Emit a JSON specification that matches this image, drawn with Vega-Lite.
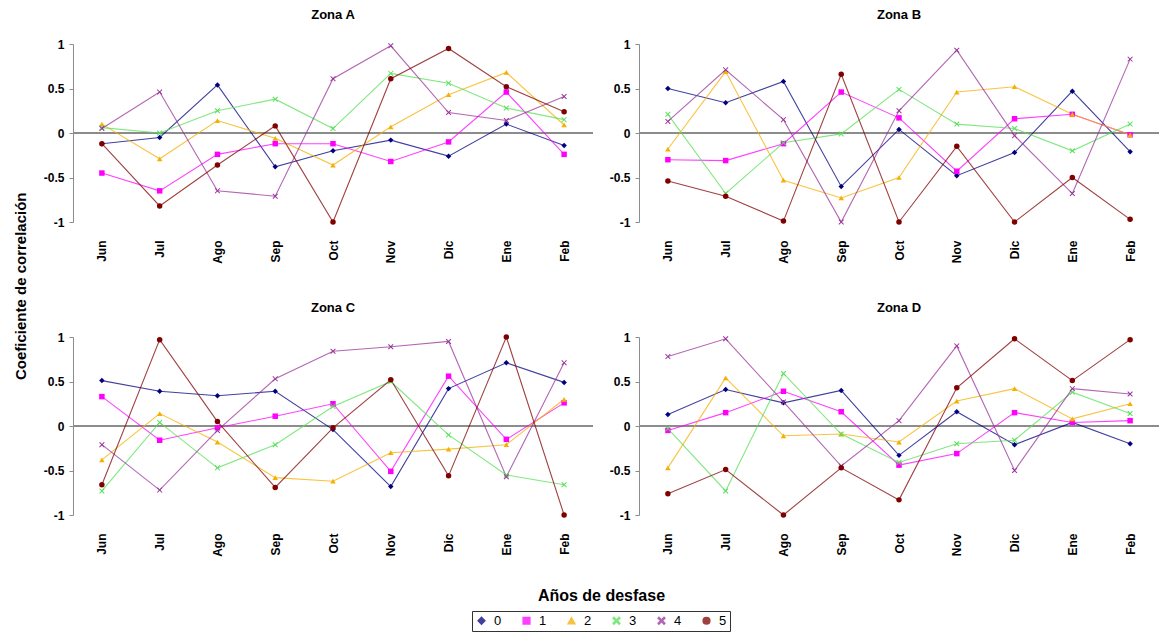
{
  "$schema": "https://vega.github.io/schema/vega-lite/v6.json",
  "background": "white",
  "padding": {"left": 14, "top": 9, "right": 0, "bottom": 4},
  "title": {"text": "Coeficiente de correlación", "orient": "left", "anchor": "middle", "fontSize": 15, "fontWeight": "bold", "font": "Liberation Sans", "offset": 14, "dx": 34},
  "vconcat": [
    {
      "title": {"text": "Años de desfase", "orient": "bottom", "anchor": "middle", "fontSize": 16, "fontWeight": "bold", "font": "Liberation Sans", "offset": 32},
      "data": {
        "values": [
          {"zona": "Zona A", "serie": "0", "mes": "Jun", "r": -0.12}, {"zona": "Zona A", "serie": "0", "mes": "Jul", "r": -0.05}, {"zona": "Zona A", "serie": "0", "mes": "Ago", "r": 0.54}, {"zona": "Zona A", "serie": "0", "mes": "Sep", "r": -0.38}, {"zona": "Zona A", "serie": "0", "mes": "Oct", "r": -0.2}, {"zona": "Zona A", "serie": "0", "mes": "Nov", "r": -0.08}, {"zona": "Zona A", "serie": "0", "mes": "Dic", "r": -0.26}, {"zona": "Zona A", "serie": "0", "mes": "Ene", "r": 0.1}, {"zona": "Zona A", "serie": "0", "mes": "Feb", "r": -0.14},
          {"zona": "Zona A", "serie": "1", "mes": "Jun", "r": -0.45}, {"zona": "Zona A", "serie": "1", "mes": "Jul", "r": -0.65}, {"zona": "Zona A", "serie": "1", "mes": "Ago", "r": -0.24}, {"zona": "Zona A", "serie": "1", "mes": "Sep", "r": -0.12}, {"zona": "Zona A", "serie": "1", "mes": "Oct", "r": -0.12}, {"zona": "Zona A", "serie": "1", "mes": "Nov", "r": -0.32}, {"zona": "Zona A", "serie": "1", "mes": "Dic", "r": -0.1}, {"zona": "Zona A", "serie": "1", "mes": "Ene", "r": 0.46}, {"zona": "Zona A", "serie": "1", "mes": "Feb", "r": -0.24},
          {"zona": "Zona A", "serie": "2", "mes": "Jun", "r": 0.1}, {"zona": "Zona A", "serie": "2", "mes": "Jul", "r": -0.29}, {"zona": "Zona A", "serie": "2", "mes": "Ago", "r": 0.14}, {"zona": "Zona A", "serie": "2", "mes": "Sep", "r": -0.06}, {"zona": "Zona A", "serie": "2", "mes": "Oct", "r": -0.36}, {"zona": "Zona A", "serie": "2", "mes": "Nov", "r": 0.07}, {"zona": "Zona A", "serie": "2", "mes": "Dic", "r": 0.43}, {"zona": "Zona A", "serie": "2", "mes": "Ene", "r": 0.68}, {"zona": "Zona A", "serie": "2", "mes": "Feb", "r": 0.09},
          {"zona": "Zona A", "serie": "3", "mes": "Jun", "r": 0.06}, {"zona": "Zona A", "serie": "3", "mes": "Jul", "r": 0.0}, {"zona": "Zona A", "serie": "3", "mes": "Ago", "r": 0.25}, {"zona": "Zona A", "serie": "3", "mes": "Sep", "r": 0.38}, {"zona": "Zona A", "serie": "3", "mes": "Oct", "r": 0.05}, {"zona": "Zona A", "serie": "3", "mes": "Nov", "r": 0.67}, {"zona": "Zona A", "serie": "3", "mes": "Dic", "r": 0.56}, {"zona": "Zona A", "serie": "3", "mes": "Ene", "r": 0.28}, {"zona": "Zona A", "serie": "3", "mes": "Feb", "r": 0.15},
          {"zona": "Zona A", "serie": "4", "mes": "Jun", "r": 0.05}, {"zona": "Zona A", "serie": "4", "mes": "Jul", "r": 0.46}, {"zona": "Zona A", "serie": "4", "mes": "Ago", "r": -0.65}, {"zona": "Zona A", "serie": "4", "mes": "Sep", "r": -0.71}, {"zona": "Zona A", "serie": "4", "mes": "Oct", "r": 0.61}, {"zona": "Zona A", "serie": "4", "mes": "Nov", "r": 0.98}, {"zona": "Zona A", "serie": "4", "mes": "Dic", "r": 0.23}, {"zona": "Zona A", "serie": "4", "mes": "Ene", "r": 0.14}, {"zona": "Zona A", "serie": "4", "mes": "Feb", "r": 0.41},
          {"zona": "Zona A", "serie": "5", "mes": "Jun", "r": -0.12}, {"zona": "Zona A", "serie": "5", "mes": "Jul", "r": -0.82}, {"zona": "Zona A", "serie": "5", "mes": "Ago", "r": -0.36}, {"zona": "Zona A", "serie": "5", "mes": "Sep", "r": 0.08}, {"zona": "Zona A", "serie": "5", "mes": "Oct", "r": -1.0}, {"zona": "Zona A", "serie": "5", "mes": "Nov", "r": 0.61}, {"zona": "Zona A", "serie": "5", "mes": "Dic", "r": 0.95}, {"zona": "Zona A", "serie": "5", "mes": "Ene", "r": 0.52}, {"zona": "Zona A", "serie": "5", "mes": "Feb", "r": 0.24},
          {"zona": "Zona B", "serie": "0", "mes": "Jun", "r": 0.5}, {"zona": "Zona B", "serie": "0", "mes": "Jul", "r": 0.34}, {"zona": "Zona B", "serie": "0", "mes": "Ago", "r": 0.58}, {"zona": "Zona B", "serie": "0", "mes": "Sep", "r": -0.6}, {"zona": "Zona B", "serie": "0", "mes": "Oct", "r": 0.04}, {"zona": "Zona B", "serie": "0", "mes": "Nov", "r": -0.48}, {"zona": "Zona B", "serie": "0", "mes": "Dic", "r": -0.22}, {"zona": "Zona B", "serie": "0", "mes": "Ene", "r": 0.47}, {"zona": "Zona B", "serie": "0", "mes": "Feb", "r": -0.21},
          {"zona": "Zona B", "serie": "1", "mes": "Jun", "r": -0.3}, {"zona": "Zona B", "serie": "1", "mes": "Jul", "r": -0.31}, {"zona": "Zona B", "serie": "1", "mes": "Ago", "r": -0.12}, {"zona": "Zona B", "serie": "1", "mes": "Sep", "r": 0.46}, {"zona": "Zona B", "serie": "1", "mes": "Oct", "r": 0.17}, {"zona": "Zona B", "serie": "1", "mes": "Nov", "r": -0.43}, {"zona": "Zona B", "serie": "1", "mes": "Dic", "r": 0.16}, {"zona": "Zona B", "serie": "1", "mes": "Ene", "r": 0.21}, {"zona": "Zona B", "serie": "1", "mes": "Feb", "r": -0.02},
          {"zona": "Zona B", "serie": "2", "mes": "Jun", "r": -0.18}, {"zona": "Zona B", "serie": "2", "mes": "Jul", "r": 0.69}, {"zona": "Zona B", "serie": "2", "mes": "Ago", "r": -0.53}, {"zona": "Zona B", "serie": "2", "mes": "Sep", "r": -0.73}, {"zona": "Zona B", "serie": "2", "mes": "Oct", "r": -0.5}, {"zona": "Zona B", "serie": "2", "mes": "Nov", "r": 0.46}, {"zona": "Zona B", "serie": "2", "mes": "Dic", "r": 0.52}, {"zona": "Zona B", "serie": "2", "mes": "Ene", "r": 0.21}, {"zona": "Zona B", "serie": "2", "mes": "Feb", "r": -0.02},
          {"zona": "Zona B", "serie": "3", "mes": "Jun", "r": 0.21}, {"zona": "Zona B", "serie": "3", "mes": "Jul", "r": -0.68}, {"zona": "Zona B", "serie": "3", "mes": "Ago", "r": -0.11}, {"zona": "Zona B", "serie": "3", "mes": "Sep", "r": -0.01}, {"zona": "Zona B", "serie": "3", "mes": "Oct", "r": 0.49}, {"zona": "Zona B", "serie": "3", "mes": "Nov", "r": 0.1}, {"zona": "Zona B", "serie": "3", "mes": "Dic", "r": 0.05}, {"zona": "Zona B", "serie": "3", "mes": "Ene", "r": -0.2}, {"zona": "Zona B", "serie": "3", "mes": "Feb", "r": 0.1},
          {"zona": "Zona B", "serie": "4", "mes": "Jun", "r": 0.13}, {"zona": "Zona B", "serie": "4", "mes": "Jul", "r": 0.71}, {"zona": "Zona B", "serie": "4", "mes": "Ago", "r": 0.15}, {"zona": "Zona B", "serie": "4", "mes": "Sep", "r": -1.0}, {"zona": "Zona B", "serie": "4", "mes": "Oct", "r": 0.25}, {"zona": "Zona B", "serie": "4", "mes": "Nov", "r": 0.93}, {"zona": "Zona B", "serie": "4", "mes": "Dic", "r": -0.03}, {"zona": "Zona B", "serie": "4", "mes": "Ene", "r": -0.68}, {"zona": "Zona B", "serie": "4", "mes": "Feb", "r": 0.83},
          {"zona": "Zona B", "serie": "5", "mes": "Jun", "r": -0.54}, {"zona": "Zona B", "serie": "5", "mes": "Jul", "r": -0.71}, {"zona": "Zona B", "serie": "5", "mes": "Ago", "r": -0.99}, {"zona": "Zona B", "serie": "5", "mes": "Sep", "r": 0.66}, {"zona": "Zona B", "serie": "5", "mes": "Oct", "r": -1.0}, {"zona": "Zona B", "serie": "5", "mes": "Nov", "r": -0.15}, {"zona": "Zona B", "serie": "5", "mes": "Dic", "r": -1.0}, {"zona": "Zona B", "serie": "5", "mes": "Ene", "r": -0.5}, {"zona": "Zona B", "serie": "5", "mes": "Feb", "r": -0.97},
          {"zona": "Zona C", "serie": "0", "mes": "Jun", "r": 0.51}, {"zona": "Zona C", "serie": "0", "mes": "Jul", "r": 0.39}, {"zona": "Zona C", "serie": "0", "mes": "Ago", "r": 0.34}, {"zona": "Zona C", "serie": "0", "mes": "Sep", "r": 0.39}, {"zona": "Zona C", "serie": "0", "mes": "Oct", "r": -0.04}, {"zona": "Zona C", "serie": "0", "mes": "Nov", "r": -0.68}, {"zona": "Zona C", "serie": "0", "mes": "Dic", "r": 0.42}, {"zona": "Zona C", "serie": "0", "mes": "Ene", "r": 0.71}, {"zona": "Zona C", "serie": "0", "mes": "Feb", "r": 0.49},
          {"zona": "Zona C", "serie": "1", "mes": "Jun", "r": 0.33}, {"zona": "Zona C", "serie": "1", "mes": "Jul", "r": -0.16}, {"zona": "Zona C", "serie": "1", "mes": "Ago", "r": -0.02}, {"zona": "Zona C", "serie": "1", "mes": "Sep", "r": 0.11}, {"zona": "Zona C", "serie": "1", "mes": "Oct", "r": 0.25}, {"zona": "Zona C", "serie": "1", "mes": "Nov", "r": -0.51}, {"zona": "Zona C", "serie": "1", "mes": "Dic", "r": 0.56}, {"zona": "Zona C", "serie": "1", "mes": "Ene", "r": -0.15}, {"zona": "Zona C", "serie": "1", "mes": "Feb", "r": 0.26},
          {"zona": "Zona C", "serie": "2", "mes": "Jun", "r": -0.38}, {"zona": "Zona C", "serie": "2", "mes": "Jul", "r": 0.14}, {"zona": "Zona C", "serie": "2", "mes": "Ago", "r": -0.18}, {"zona": "Zona C", "serie": "2", "mes": "Sep", "r": -0.58}, {"zona": "Zona C", "serie": "2", "mes": "Oct", "r": -0.62}, {"zona": "Zona C", "serie": "2", "mes": "Nov", "r": -0.3}, {"zona": "Zona C", "serie": "2", "mes": "Dic", "r": -0.26}, {"zona": "Zona C", "serie": "2", "mes": "Ene", "r": -0.21}, {"zona": "Zona C", "serie": "2", "mes": "Feb", "r": 0.3},
          {"zona": "Zona C", "serie": "3", "mes": "Jun", "r": -0.73}, {"zona": "Zona C", "serie": "3", "mes": "Jul", "r": 0.04}, {"zona": "Zona C", "serie": "3", "mes": "Ago", "r": -0.47}, {"zona": "Zona C", "serie": "3", "mes": "Sep", "r": -0.21}, {"zona": "Zona C", "serie": "3", "mes": "Oct", "r": 0.22}, {"zona": "Zona C", "serie": "3", "mes": "Nov", "r": 0.5}, {"zona": "Zona C", "serie": "3", "mes": "Dic", "r": -0.1}, {"zona": "Zona C", "serie": "3", "mes": "Ene", "r": -0.55}, {"zona": "Zona C", "serie": "3", "mes": "Feb", "r": -0.66},
          {"zona": "Zona C", "serie": "4", "mes": "Jun", "r": -0.21}, {"zona": "Zona C", "serie": "4", "mes": "Jul", "r": -0.72}, {"zona": "Zona C", "serie": "4", "mes": "Ago", "r": -0.05}, {"zona": "Zona C", "serie": "4", "mes": "Sep", "r": 0.53}, {"zona": "Zona C", "serie": "4", "mes": "Oct", "r": 0.84}, {"zona": "Zona C", "serie": "4", "mes": "Nov", "r": 0.89}, {"zona": "Zona C", "serie": "4", "mes": "Dic", "r": 0.95}, {"zona": "Zona C", "serie": "4", "mes": "Ene", "r": -0.57}, {"zona": "Zona C", "serie": "4", "mes": "Feb", "r": 0.71},
          {"zona": "Zona C", "serie": "5", "mes": "Jun", "r": -0.66}, {"zona": "Zona C", "serie": "5", "mes": "Jul", "r": 0.97}, {"zona": "Zona C", "serie": "5", "mes": "Ago", "r": 0.05}, {"zona": "Zona C", "serie": "5", "mes": "Sep", "r": -0.69}, {"zona": "Zona C", "serie": "5", "mes": "Oct", "r": -0.02}, {"zona": "Zona C", "serie": "5", "mes": "Nov", "r": 0.52}, {"zona": "Zona C", "serie": "5", "mes": "Dic", "r": -0.56}, {"zona": "Zona C", "serie": "5", "mes": "Ene", "r": 1.0}, {"zona": "Zona C", "serie": "5", "mes": "Feb", "r": -1.0},
          {"zona": "Zona D", "serie": "0", "mes": "Jun", "r": 0.13}, {"zona": "Zona D", "serie": "0", "mes": "Jul", "r": 0.41}, {"zona": "Zona D", "serie": "0", "mes": "Ago", "r": 0.26}, {"zona": "Zona D", "serie": "0", "mes": "Sep", "r": 0.4}, {"zona": "Zona D", "serie": "0", "mes": "Oct", "r": -0.33}, {"zona": "Zona D", "serie": "0", "mes": "Nov", "r": 0.16}, {"zona": "Zona D", "serie": "0", "mes": "Dic", "r": -0.21}, {"zona": "Zona D", "serie": "0", "mes": "Ene", "r": 0.04}, {"zona": "Zona D", "serie": "0", "mes": "Feb", "r": -0.2},
          {"zona": "Zona D", "serie": "1", "mes": "Jun", "r": -0.05}, {"zona": "Zona D", "serie": "1", "mes": "Jul", "r": 0.15}, {"zona": "Zona D", "serie": "1", "mes": "Ago", "r": 0.39}, {"zona": "Zona D", "serie": "1", "mes": "Sep", "r": 0.16}, {"zona": "Zona D", "serie": "1", "mes": "Oct", "r": -0.44}, {"zona": "Zona D", "serie": "1", "mes": "Nov", "r": -0.31}, {"zona": "Zona D", "serie": "1", "mes": "Dic", "r": 0.15}, {"zona": "Zona D", "serie": "1", "mes": "Ene", "r": 0.04}, {"zona": "Zona D", "serie": "1", "mes": "Feb", "r": 0.06},
          {"zona": "Zona D", "serie": "2", "mes": "Jun", "r": -0.47}, {"zona": "Zona D", "serie": "2", "mes": "Jul", "r": 0.54}, {"zona": "Zona D", "serie": "2", "mes": "Ago", "r": -0.11}, {"zona": "Zona D", "serie": "2", "mes": "Sep", "r": -0.09}, {"zona": "Zona D", "serie": "2", "mes": "Oct", "r": -0.18}, {"zona": "Zona D", "serie": "2", "mes": "Nov", "r": 0.28}, {"zona": "Zona D", "serie": "2", "mes": "Dic", "r": 0.42}, {"zona": "Zona D", "serie": "2", "mes": "Ene", "r": 0.08}, {"zona": "Zona D", "serie": "2", "mes": "Feb", "r": 0.25},
          {"zona": "Zona D", "serie": "3", "mes": "Jun", "r": -0.03}, {"zona": "Zona D", "serie": "3", "mes": "Jul", "r": -0.73}, {"zona": "Zona D", "serie": "3", "mes": "Ago", "r": 0.59}, {"zona": "Zona D", "serie": "3", "mes": "Sep", "r": -0.09}, {"zona": "Zona D", "serie": "3", "mes": "Oct", "r": -0.41}, {"zona": "Zona D", "serie": "3", "mes": "Nov", "r": -0.2}, {"zona": "Zona D", "serie": "3", "mes": "Dic", "r": -0.16}, {"zona": "Zona D", "serie": "3", "mes": "Ene", "r": 0.38}, {"zona": "Zona D", "serie": "3", "mes": "Feb", "r": 0.14},
          {"zona": "Zona D", "serie": "4", "mes": "Jun", "r": 0.78}, {"zona": "Zona D", "serie": "4", "mes": "Jul", "r": 0.98}, {"zona": "Zona D", "serie": "4", "mes": "Ago", "r": 0.27}, {"zona": "Zona D", "serie": "4", "mes": "Sep", "r": -0.45}, {"zona": "Zona D", "serie": "4", "mes": "Oct", "r": 0.06}, {"zona": "Zona D", "serie": "4", "mes": "Nov", "r": 0.9}, {"zona": "Zona D", "serie": "4", "mes": "Dic", "r": -0.5}, {"zona": "Zona D", "serie": "4", "mes": "Ene", "r": 0.42}, {"zona": "Zona D", "serie": "4", "mes": "Feb", "r": 0.36},
          {"zona": "Zona D", "serie": "5", "mes": "Jun", "r": -0.76}, {"zona": "Zona D", "serie": "5", "mes": "Jul", "r": -0.49}, {"zona": "Zona D", "serie": "5", "mes": "Ago", "r": -1.0}, {"zona": "Zona D", "serie": "5", "mes": "Sep", "r": -0.47}, {"zona": "Zona D", "serie": "5", "mes": "Oct", "r": -0.83}, {"zona": "Zona D", "serie": "5", "mes": "Nov", "r": 0.43}, {"zona": "Zona D", "serie": "5", "mes": "Dic", "r": 0.98}, {"zona": "Zona D", "serie": "5", "mes": "Ene", "r": 0.51}, {"zona": "Zona D", "serie": "5", "mes": "Feb", "r": 0.97}
        ]
      },
      "columns": 2,
      "facet": {
        "field": "zona",
        "type": "nominal",
        "header": {"title": null, "labelFontSize": 13, "labelFontWeight": "bold", "labelFont": "Liberation Sans", "labelPadding": 16}
      },
      "spacing": {"row": 38, "column": 15},
      "resolve": {"axis": {"x": "independent", "y": "independent"}},
      "spec": {
        "width": 520,
        "height": 178,
        "layer": [
          {
            "mark": {"type": "rule", "color": "#8c8c8c", "strokeWidth": 1.2},
            "encoding": {"y": {"datum": 0}}
          },
          {
            "mark": {"type": "line", "strokeWidth": 1.1, "opacity": 0.75},
            "encoding": {
              "x": {"field": "mes", "type": "ordinal", "sort": ["Jun", "Jul", "Ago", "Sep", "Oct", "Nov", "Dic", "Ene", "Feb"]},
              "y": {"field": "r", "type": "quantitative"},
              "color": {"field": "serie", "type": "nominal"}
            }
          },
          {
            "mark": {"type": "point", "filled": true, "size": 30, "opacity": 1},
            "encoding": {
              "x": {
                "field": "mes",
                "type": "ordinal",
                "sort": ["Jun", "Jul", "Ago", "Sep", "Oct", "Nov", "Dic", "Ene", "Feb"],
                "scale": {"type": "point", "padding": 0.5},
                "axis": {"title": null, "labelAngle": -90, "labelFontWeight": "bold", "labelFontSize": 12, "labelFont": "Liberation Sans", "ticks": false, "domain": false, "labelPadding": 18}
              },
              "y": {
                "field": "r",
                "type": "quantitative",
                "scale": {"domain": [-1, 1]},
                "axis": {"title": null, "values": [-1, -0.5, 0, 0.5, 1], "labelExpr": "'' + datum.value", "grid": false, "labelFontWeight": "bold", "labelFontSize": 12, "labelFont": "Liberation Sans", "domainColor": "#8c8c8c", "tickColor": "#8c8c8c", "tickSize": 4, "labelPadding": 5}
              },
              "color": {
                "field": "serie",
                "type": "nominal",
                "scale": {"domain": ["0", "1", "2", "3", "4", "5"], "range": ["#000080", "#ff00ff", "#f5b000", "#55e055", "#993399", "#800000"]},
                "legend": {"title": null, "orient": "bottom", "direction": "horizontal", "strokeColor": "#333333", "padding": 3, "labelFontSize": 13, "labelFont": "Liberation Sans", "symbolSize": 45, "columnPadding": 18, "labelOffset": 6, "offset": 6}
              },
              "shape": {
                "field": "serie",
                "type": "nominal",
                "scale": {"domain": ["0", "1", "2", "3", "4", "5"], "range": ["diamond", "square", "triangle-up", "M-1,-0.75L-0.75,-1L0,-0.25L0.75,-1L1,-0.75L0.25,0L1,0.75L0.75,1L0,0.25L-0.75,1L-1,0.75L-0.25,0Z", "M-1,-0.75L-0.75,-1L0,-0.25L0.75,-1L1,-0.75L0.25,0L1,0.75L0.75,1L0,0.25L-0.75,1L-1,0.75L-0.25,0Z", "circle"]},
                "legend": {"title": null}
              }
            }
          }
        ]
      }
    }
  ],
  "config": {
    "view": {"stroke": null},
    "legend": {"layout": {"bottom": {"anchor": "middle"}}}
  }
}
